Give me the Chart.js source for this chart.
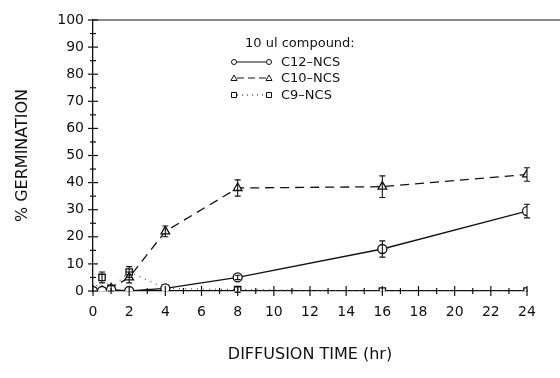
<!DOCTYPE html>
<html><head><meta charset="utf-8">
<script src="https://cdn.jsdelivr.net/npm/chart.js@4/dist/chart.umd.min.js"></script>
<style>html,body{margin:0;padding:0;background:#fff}#wrap{width:560px;height:378px}</style>
</head><body><div id="wrap"><canvas id="c" width="560" height="378"></canvas></div>
<script>
const hours = [0, 0.5, 1, 2, 4, 8, 16, 24];
const c12 = [0, 0, 0.5, 0, 1, 5, 15.5, 29.5];
const c12Err = [0, 0, 0, 0, 0, 0.8, 3, 2.5];
const c10 = [0, 0, 1, 5, 22, 38, 38.5, 43];
const c10Err = [0, 0, 1, 2, 2, 3, 4, 2.5];
const c9 = [0, 5, 1, 7, 1, 0.5, 0, 0];
const c9Err = [0, 2, 0, 2, 0, 1, 0, 0];
const seriesNames = ['C12\u2013NCS', 'C10\u2013NCS', 'C9\u2013NCS'];
const legendTitle = '10 ul compound:';
const xTicks = [0,2,4,6,8,10,12,14,16,18,20,22,24];
const yTicks = [0,10,20,30,40,50,60,70,80,90,100];

const FONT = 'DejaVu Sans';
const INK = '#111';
function pts(ys){ return hours.map((x,i)=>({x:x,y:ys[i]})); }

const extras = {
  id:'extras',
  afterDatasetsDraw(chart){
    const ctx = chart.ctx, xs = chart.scales.x, ys = chart.scales.y, a = chart.chartArea;
    ctx.save();
    ctx.strokeStyle = INK; ctx.lineWidth = 1.2; ctx.setLineDash([]);
    ctx.beginPath(); ctx.moveTo(a.left, a.top); ctx.lineTo(560, a.top); ctx.stroke();
    for(let v=0; v<=100; v+=5){
      const py = ys.getPixelForValue(v), L = (v%10===0)?5:3;
      ctx.beginPath(); ctx.moveTo(a.left-L, py); ctx.lineTo(a.left+L, py); ctx.stroke();
    }
    for(let v=0; v<=24; v+=1){
      const px = xs.getPixelForValue(v), L = (v%2===0)?5:3;
      ctx.beginPath(); ctx.moveTo(px, a.bottom-L); ctx.lineTo(px, a.bottom+L); ctx.stroke();
    }
    const sets = [[c12,c12Err],[c10,c10Err],[c9,c9Err]];
    ctx.lineWidth = 1.1;
    sets.forEach(([vals,errs])=>{
      hours.forEach((h,i)=>{
        if(!errs[i]) return;
        const px = xs.getPixelForValue(h);
        const yt = ys.getPixelForValue(vals[i]+errs[i]);
        const yb = ys.getPixelForValue(vals[i]-errs[i]);
        ctx.beginPath();
        ctx.moveTo(px, yt); ctx.lineTo(px, yb);
        ctx.moveTo(px-3, yt); ctx.lineTo(px+3, yt);
        ctx.moveTo(px-3, yb); ctx.lineTo(px+3, yb);
        ctx.stroke();
      });
    });
    ctx.fillStyle = INK;
    ctx.font = '13px "' + FONT + '"';
    ctx.textBaseline = 'middle'; ctx.textAlign = 'left';
    ctx.fillText(legendTitle, 245, 44);
    const rows = [
      {y:62, dash:[], shape:'circle'},
      {y:78, dash:[7,4], shape:'triangle'},
      {y:95, dash:[1,4], shape:'rect'}
    ];
    rows.forEach((r,i)=>{
      ctx.setLineDash(r.dash); ctx.lineWidth = 1;
      ctx.beginPath(); ctx.moveTo(237, r.y); ctx.lineTo(266, r.y); ctx.stroke();
      ctx.setLineDash([]);
      [234, 269].forEach(mx=>{
        ctx.beginPath();
        if(r.shape==='circle'){ ctx.arc(mx, r.y, 2.5, 0, Math.PI*2); }
        else if(r.shape==='triangle'){ ctx.moveTo(mx, r.y-3); ctx.lineTo(mx+3, r.y+2.5); ctx.lineTo(mx-3, r.y+2.5); ctx.closePath(); }
        else { ctx.rect(mx-2.5, r.y-2.5, 5, 5); }
        ctx.fillStyle='#fff'; ctx.fill(); ctx.stroke();
      });
      ctx.fillStyle = INK;
      ctx.fillText(seriesNames[i], 281, r.y+1);
    });
    ctx.restore();
  }
};

new Chart(document.getElementById('c'), {
  type:'line',
  data:{ datasets:[
    {label:seriesNames[0], data:pts(c12), borderColor:INK, borderWidth:1.3, pointStyle:'circle', pointRadius:4.5, pointBackgroundColor:'#fff', pointBorderColor:INK, pointBorderWidth:1.3, borderDash:[]},
    {label:seriesNames[1], data:pts(c10), borderColor:INK, borderWidth:1.3, pointStyle:'triangle', pointRadius:5, pointBackgroundColor:'#fff', pointBorderColor:INK, pointBorderWidth:1.3, borderDash:[9,6]},
    {label:seriesNames[2], data:pts(c9), borderColor:'#555', borderWidth:1.2, pointStyle:'rect', pointRadius:4.5, pointBackgroundColor:'#fff', pointBorderColor:INK, pointBorderWidth:1.3, borderDash:[1,5]}
  ]},
  plugins:[extras],
  options:{
    responsive:false, animation:false, devicePixelRatio:1,
    layout:{padding:{top:20,right:33,left:0,bottom:0}},
    plugins:{legend:{display:false}, tooltip:{enabled:false}},
    scales:{
      x:{type:'linear', min:0, max:24,
        afterBuildTicks(s){ s.ticks = xTicks.map(v=>({value:v})); },
        afterFit(s){ s.height = 87; },
        grid:{display:false, drawTicks:false},
        border:{display:true, color:INK, width:1.3},
        ticks:{padding:13, color:INK, font:{family:FONT, size:14}, maxRotation:0},
        title:{display:true, text:'DIFFUSION TIME (hr)', color:INK, font:{family:FONT, size:16}, padding:{top:4, bottom:14}}
      },
      y:{type:'linear', min:0, max:100,
        afterBuildTicks(s){ s.ticks = yTicks.map(v=>({value:v})); },
        afterFit(s){ s.width = 93; },
        grid:{display:false, drawTicks:false},
        border:{display:true, color:INK, width:1.3},
        ticks:{padding:9, color:INK, font:{family:FONT, size:14}},
        title:{display:true, text:'% GERMINATION', color:INK, font:{family:FONT, size:16}, padding:{top:13, bottom:4}}
      }
    }
  }
});
</script></body></html>
